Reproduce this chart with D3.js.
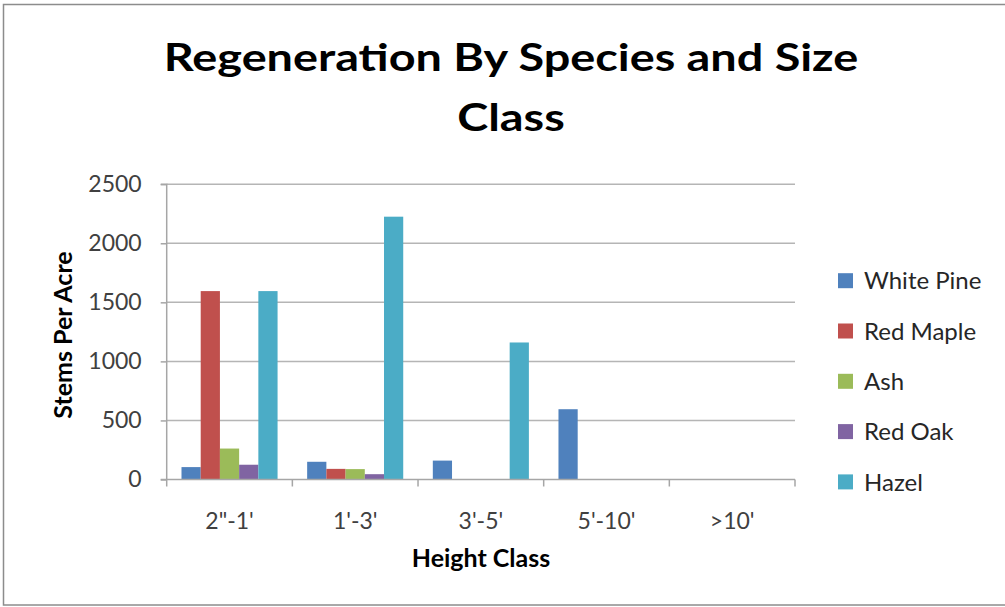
<!DOCTYPE html>
<html><head><meta charset="utf-8">
<script src="https://cdn.jsdelivr.net/npm/d3@7"></script>
<style>
html,body{margin:0;padding:0;background:#fff;}
svg{display:block;font-family:Lato,"Open Sans",sans-serif;}
</style></head>
<body>
<svg id="c" width="1005" height="607"></svg>
<script>
const categories = ["2\"-1'", "1'-3'", "3'-5'", "5'-10'", ">10'"];
const seriesNames = ["White Pine", "Red Maple", "Ash", "Red Oak", "Hazel"];
const whitePine = [105, 150, 160, 595, 0];
const redMaple = [1595, 90, 0, 0, 0];
const ash = [262, 88, 0, 0, 0];
const redOak = [125, 45, 0, 0, 0];
const hazel = [1595, 2225, 1160, 0, 0];
const seriesValues = [whitePine, redMaple, ash, redOak, hazel];
const colors = ["#4F81BD", "#C0504D", "#9BBB59", "#8064A2", "#4BACC6"];
const yTicks = [0, 500, 1000, 1500, 2000, 2500];

const svg = d3.select("#c");
// outer border
svg.append("rect").attr("x",3.5).attr("y",4.5).attr("width",1010).attr("height",600.5)
  .attr("fill","#fff").attr("stroke","#8c8c8c").attr("stroke-width",1.5);

const pLeft = 166.7, pRight = 795, pTop = 184.2, pBottom = 479.5;
const x = d3.scaleBand().domain(categories).range([pLeft, pRight]).paddingInner(0).paddingOuter(0);
const y = d3.scaleLinear().domain([0, 2500]).range([pBottom, pTop]);
const inner = d3.scaleBand().domain(seriesNames).range([0, x.bandwidth()]).paddingInner(0).paddingOuter(0.77);

// gridlines
svg.append("g").selectAll("line").data(yTicks.filter(d=>d>0)).join("line")
  .attr("x1", pLeft).attr("x2", pRight).attr("y1", d=>y(d)).attr("y2", d=>y(d))
  .attr("stroke","#b5b5b5").attr("stroke-width",1.5);

// bars
const rows = [];
categories.forEach((c,i)=>seriesNames.forEach((s,j)=>rows.push({c, s, v: seriesValues[j][i], col: colors[j]})));
svg.append("g").selectAll("rect").data(rows.filter(r=>r.v>0)).join("rect")
  .attr("x", d=>x(d.c)+inner(d.s)).attr("width", inner.bandwidth())
  .attr("y", d=>y(d.v)).attr("height", d=>y(0)-y(d.v)).attr("fill", d=>d.col);

// y axis
const yAxis = d3.axisLeft(y).tickValues(yTicks).tickSize(6).tickPadding(19).tickFormat(d3.format("d"));
const gy = svg.append("g").attr("transform",`translate(${pLeft},0)`).call(yAxis);
gy.select(".domain").attr("stroke","#a6a6a6").attr("stroke-width",1.5).attr("d",`M-6,${pTop}H0V${pBottom}`);
gy.selectAll(".tick line").attr("stroke","#a6a6a6").attr("stroke-width",1.5);
gy.selectAll("text").attr("fill","#404040").style("font-size","23px").style("font-family","Lato,sans-serif");

// x axis
const xAxis = d3.axisBottom(x).tickSize(0).tickPadding(33);
const gx = svg.append("g").attr("transform",`translate(0,${pBottom})`).call(xAxis);
gx.select(".domain").attr("stroke","#a6a6a6").attr("stroke-width",1.5).attr("d",`M${pLeft-6},0H${pRight}`);
gx.selectAll("text").attr("fill","#404040").style("font-size","23px").style("font-family","Lato,sans-serif");
const bounds = categories.map(c=>x(c)).concat([pRight]);
svg.append("g").selectAll("line").data(bounds).join("line")
  .attr("x1",d=>d).attr("x2",d=>d).attr("y1",pBottom).attr("y2",pBottom+7)
  .attr("stroke","#a6a6a6").attr("stroke-width",1.5);

// titles
const titleLines = ["Regeneration By Species and Size", "Class"];
svg.append("g").selectAll("text").data(titleLines).join("text")
  .attr("transform",(d,i)=>`translate(511,${71 + i*60}) scale(1.2,1)`)
  .attr("text-anchor","middle").attr("fill","#000")
  .style("font-size","39px").style("font-weight","bold").text(d=>d);

svg.append("text").attr("x",481).attr("y",567).attr("text-anchor","middle")
  .style("font-size","25px").style("font-weight","bold").text("Height Class");
svg.append("text").attr("transform","translate(72,335) rotate(-90)").attr("text-anchor","middle")
  .style("font-size","25px").style("font-weight","bold").text("Stems Per Acre");

// legend
const lg = svg.append("g").selectAll("g").data(seriesNames).join("g")
  .attr("transform",(d,i)=>`translate(838,${280.7 + i*50.3})`);
lg.append("rect").attr("x",0).attr("y",-7.5).attr("width",15).attr("height",15).attr("fill",(d,i)=>colors[i]);
lg.append("text").attr("x",26).attr("y",0).attr("dy","0.36em").attr("fill","#262626")
  .style("font-size","24px").text(d=>d);
</script>
</body></html>
